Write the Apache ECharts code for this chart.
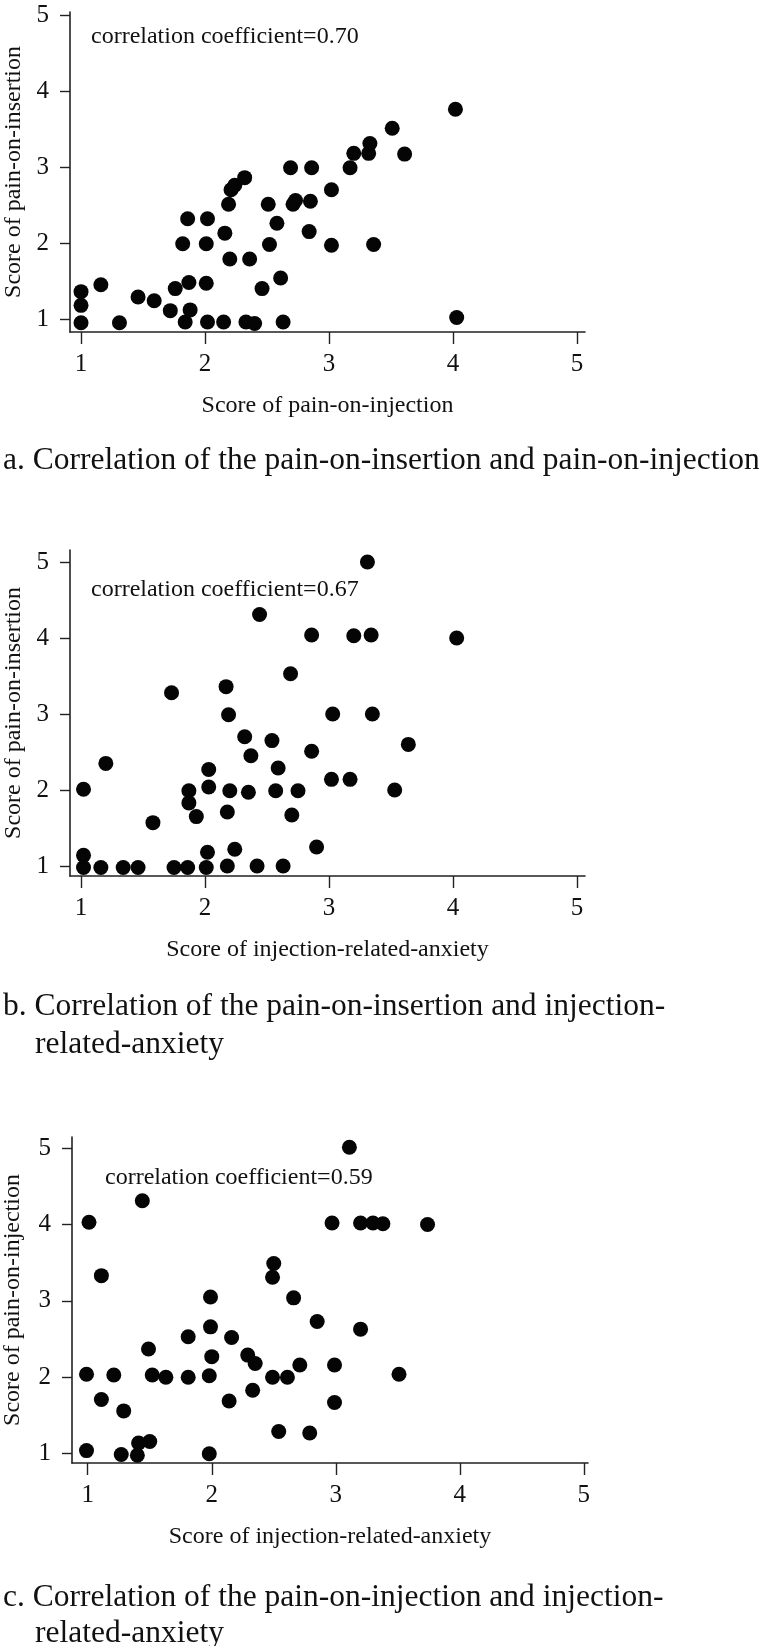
<!DOCTYPE html>
<html>
<head>
<meta charset="utf-8">
<script src="https://cdn.jsdelivr.net/npm/echarts@6/dist/echarts.min.js"></script>
<style>
html,body{margin:0;padding:0;background:#fff;}
#chart{width:759px;height:1646px;}
</style>
</head>
<body>
<div id="chart"></div>
<script>
// ---- data ----
const tickValues = [1, 2, 3, 4, 5];

// a: x = pain-on-injection, y = pain-on-insertion
const aX = [1.0,1.0,1.0,1.16,1.31,1.46,1.59,1.72,1.76,1.84,1.82,1.86,1.87,1.88,2.02,2.01,2.01,2.02,2.15,2.16,2.19,2.21,2.24,2.32,2.20,2.33,2.40,2.36,2.46,2.51,2.52,2.58,2.61,2.63,2.69,2.71,2.73,2.86,2.85,2.84,3.02,3.02,3.17,3.20,3.32,3.33,3.36,3.51,3.61,4.02,4.03];
const aY = [0.95,1.18,1.36,1.45,0.95,1.29,1.24,1.11,1.40,0.96,1.99,2.32,1.48,1.12,2.32,1.99,1.47,0.96,0.96,2.13,2.51,2.70,2.76,2.86,1.79,0.96,0.94,1.79,1.40,2.51,1.98,2.26,1.54,0.96,2.99,2.51,2.56,2.99,2.55,2.15,2.70,1.97,2.99,3.18,3.18,3.31,1.98,3.51,3.17,3.76,1.02];

// b: x = injection-related-anxiety, y = pain-on-insertion
const bX = [1.02,1.02,1.02,1.16,1.20,1.34,1.46,1.58,1.73,1.75,1.86,1.87,1.87,1.93,2.01,2.02,2.03,2.03,2.17,2.19,2.18,2.20,2.18,2.24,2.32,2.37,2.35,2.44,2.42,2.54,2.57,2.59,2.63,2.69,2.70,2.75,2.86,2.86,2.90,3.03,3.02,3.17,3.20,3.31,3.34,3.35,3.53,3.64,4.03];
const bY = [2.01,1.14,0.98,0.98,2.35,0.98,0.98,1.57,3.28,0.98,0.98,1.99,1.83,1.65,0.98,1.18,2.04,2.27,3.36,2.99,1.71,1.99,1.00,1.22,2.70,2.45,1.97,4.31,1.00,2.65,1.99,2.29,1.00,3.53,1.67,1.99,4.04,2.51,1.25,3.00,2.14,2.14,4.03,5.00,4.04,3.00,2.00,2.60,4.00];

// c: x = injection-related-anxiety, y = pain-on-injection
const cX = [1.01,1.44,2.97,3.11,3.20,3.30,3.38,3.74,0.99,1.11,1.29,1.27,1.40,1.41,1.50,1.98,2.54,2.79,2.99,2.14,2.33,1.11,0.99,1.21,1.49,1.52,1.63,1.81,1.81,1.99,1.99,2.00,1.98,2.16,2.29,2.35,2.50,2.49,2.49,2.61,2.66,2.71,2.85,2.99,3.20,3.51];
const cY = [4.03,4.31,4.02,5.01,4.02,4.02,4.01,4.00,1.04,1.71,1.56,0.99,0.98,1.14,1.16,1.00,1.29,1.27,1.67,1.69,1.83,3.33,2.04,2.03,2.37,2.03,2.00,2.53,2.00,3.05,2.66,2.27,2.02,2.52,2.29,2.18,3.49,3.31,2.00,2.00,3.04,2.16,2.73,2.16,2.63,2.04];

const xNames = ['Score of pain-on-injection', 'Score of injection-related-anxiety', 'Score of injection-related-anxiety'];
const yNames = ['Score of pain-on-insertion', 'Score of pain-on-insertion', 'Score of pain-on-injection'];
const coefTexts = ['correlation coefficient=0.70', 'correlation coefficient=0.67', 'correlation coefficient=0.59'];
const captionLines = [
  ['a. Correlation of the pain-on-insertion and pain-on-injection'],
  ['b. Correlation of the pain-on-insertion and injection-', 'related-anxiety'],
  ['c. Correlation of the pain-on-injection and injection-', 'related-anxiety']
];

// ---- layout ----
const FONT = "'Liberation Serif','Times New Roman',serif";
const grids = [
  {left: 70, top: 12, width: 515, height: 320, containLabel: false, outerBoundsMode: 'none'},
  {left: 70, top: 550, width: 515, height: 326, containLabel: false, outerBoundsMode: 'none'},
  {left: 72, top: 1137, width: 516, height: 326, containLabel: false, outerBoundsMode: 'none'}
];
const xRanges = [[0.911, 5.065], [0.911, 5.065], [0.873, 5.034]];
const yRanges = [[0.829, 5.04], [0.868, 5.158], [0.878, 5.145]];
const yNameGaps = [44, 44, 47];
const coefPos = [[91, 37], [91, 590], [105, 1178]];
const capPos = [[[3, 461]], [[3, 1007], [35, 1045]], [[3, 1598], [35, 1634]]];

const axisLine = {show: true, onZero: false, lineStyle: {color: '#222', width: 1.6}};
const xAxes = [], yAxes = [], series = [], graphics = [];
const sets = [[aX, aY], [bX, bY], [cX, cY]];
for (let i = 0; i < 3; i++) {
  xAxes.push({
    type: 'value', gridIndex: i, min: xRanges[i][0], max: xRanges[i][1],
    axisLine: axisLine, splitLine: {show: false},
    axisTick: {show: true, length: 12, inside: false, customValues: tickValues, lineStyle: {color: '#222', width: 1.4}},
    axisLabel: {customValues: tickValues, margin: 20, fontSize: 25, fontFamily: FONT, color: '#111'},
    name: xNames[i], nameLocation: 'middle', nameGap: 62,
    nameTextStyle: {fontSize: 24, fontFamily: FONT, color: '#111'}
  });
  yAxes.push({
    type: 'value', gridIndex: i, min: yRanges[i][0], max: yRanges[i][1],
    axisLine: axisLine, splitLine: {show: false},
    axisTick: {show: true, length: 10, inside: false, customValues: tickValues, lineStyle: {color: '#222', width: 1.4}},
    axisLabel: {customValues: tickValues, margin: 21, fontSize: 25, fontFamily: FONT, color: '#111'},
    name: yNames[i], nameLocation: 'middle', nameGap: yNameGaps[i],
    nameTextStyle: {fontSize: 24, fontFamily: FONT, color: '#111'}
  });
  const xs = sets[i][0], ys = sets[i][1];
  series.push({
    type: 'scatter', xAxisIndex: i, yAxisIndex: i,
    data: xs.map((v, k) => [v, ys[k]]),
    symbol: 'circle', symbolSize: 15,
    itemStyle: {color: '#050505', opacity: 1},
    silent: true
  });
  graphics.push({
    type: 'text', x: coefPos[i][0], y: coefPos[i][1],
    style: {text: coefTexts[i], font: '24px ' + FONT, fill: '#111', verticalAlign: 'middle'}
  });
  captionLines[i].forEach((t, k) => {
    graphics.push({
      type: 'text', x: capPos[i][k][0], y: capPos[i][k][1],
      style: {text: t, font: '31.5px ' + FONT, fill: '#111', verticalAlign: 'middle'}
    });
  });
}

const chart = echarts.init(document.getElementById('chart'), null, {renderer: 'canvas'});
chart.setOption({
  animation: false,
  backgroundColor: '#fff',
  grid: grids,
  xAxis: xAxes,
  yAxis: yAxes,
  series: series,
  graphic: graphics
});
</script>
</body>
</html>
